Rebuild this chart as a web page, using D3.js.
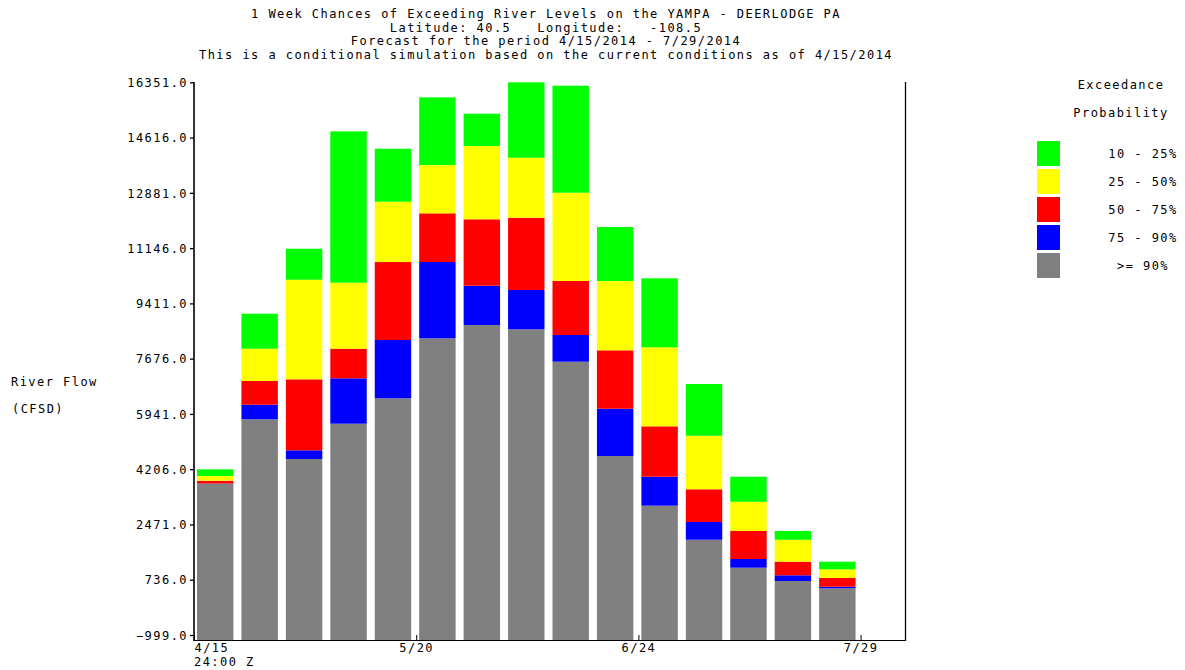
<!DOCTYPE html>
<html><head><meta charset="utf-8">
<script src="https://cdn.jsdelivr.net/npm/d3@7"></script>
<style>
body{margin:0;background:#fff}
svg text{font-family:"DejaVu Sans Mono",monospace;font-size:12px;letter-spacing:1.45px;fill:#000;white-space:pre}
</style>
</head><body><svg id="c" width="1185" height="670"></svg>
<script>
// ---------- data ----------
const titleLines = [
  "1 Week Chances of Exceeding River Levels on the YAMPA - DEERLODGE PA",
  "Latitude: 40.5   Longitude:   -108.5",
  "Forecast for the period 4/15/2014 - 7/29/2014",
  "This is a conditional simulation based on the current conditions as of 4/15/2014"
];
const weekLabels = ["4/15","4/22","4/29","5/6","5/13","5/20","5/27","6/3","6/10","6/17","6/24","7/1","7/8","7/15","7/22"];
// flow level (CFSD) exceeded with the given probability
const exceed90 = [3750, 5772, 4526, 5634, 6431, 8314, 8732, 8597, 7580, 4620, 3060, 1992, 1114, 696, 467];
const exceed75 = [3755, 6230, 4799, 7059, 8261, 10709, 9966, 9831, 8418, 6105, 3970, 2548, 1387, 875, 517];
const exceed50 = [3844, 6974, 7027, 7988, 10709, 12238, 12050, 12100, 10113, 7938, 5552, 3575, 2266, 1302, 790];
const exceed25 = [3992, 7988, 10154, 10060, 12602, 13754, 14351, 13984, 12885, 10113, 8032, 5257, 3185, 1992, 1063];
const exceed10 = [4202, 9087, 11127, 14812, 14266, 15879, 15365, 16351, 16244, 11808, 10198, 6880, 3970, 2266, 1302];
const yTicks = [-999, 736, 2471, 4206, 5941, 7676, 9411, 11146, 12881, 14616, 16351];
const xTickWeeks = [0, 5, 10, 15];
const xTickLabels = ["4/15", "5/20", "6/24", "7/29"];
const legendTitle = ["Exceedance", "Probability"];
const legendLabels = ["10 - 25%", "25 - 50%", "50 - 75%", "75 - 90%", ">= 90%"];
const legendColors = ["#00ff00", "#ffff00", "#ff0000", "#0000ff", "#808080"];
const yAxisTitle = ["River Flow", "(CFSD)"];
const timeZoneLabel = "24:00 Z";

// ---------- layout ----------
const svg = d3.select("#c");
const plot = {left: 194, right: 905, top: 82, bottom: 640};
const nSlots = weekLabels.length + 1;

const x = d3.scaleLinear().domain([0, nSlots]).range([plot.left, plot.right]);
const y = d3.scaleLinear().domain([yTicks[0], yTicks[yTicks.length - 1]]).range([635, 82.3]);

// title
svg.append("g").selectAll("text").data(titleLines).join("text")
  .attr("x", 546).attr("y", (d, i) => 18 + i * 13.5)
  .attr("text-anchor", "middle").text(d => d);

// x axis base line
svg.append("line").attr("x1", plot.left).attr("x2", plot.right)
  .attr("y1", plot.bottom + 0.5).attr("y2", plot.bottom + 0.5)
  .attr("stroke", "#000").attr("stroke-width", 1);
// right frame line
svg.append("line").attr("x1", plot.right + 0.5).attr("x2", plot.right + 0.5)
  .attr("y1", plot.top).attr("y2", plot.bottom + 1)
  .attr("stroke", "#000").attr("stroke-width", 1.3);

// bars
const segments = [];
weekLabels.forEach((w, i) => {
  const levels = [null, exceed90[i], exceed75[i], exceed50[i], exceed25[i], exceed10[i]];
  const cols = [legendColors[4], legendColors[3], legendColors[2], legendColors[1], legendColors[0]];
  for (let k = 0; k < 5; k++) {
    segments.push({i, lo: levels[k], hi: levels[k + 1], color: cols[k]});
  }
});
const slotW = x(1) - x(0);
svg.append("g").selectAll("rect").data(segments).join("rect")
  .attr("x", d => x(d.i) + 3)
  .attr("width", slotW - 8)
  .attr("y", d => y(d.hi))
  .attr("height", d => Math.max(0, (d.lo === null ? plot.bottom : y(d.lo)) - y(d.hi)))
  .attr("fill", d => d.color);

// y axis
const yAxis = d3.axisLeft(y).tickValues(yTicks).tickFormat(d3.format(".1f"))
  .tickSizeInner(4).tickSizeOuter(0).tickPadding(2);
const gy = svg.append("g").attr("transform", `translate(${plot.left},0)`).call(yAxis);
gy.select(".domain").remove();
gy.selectAll(".tick line").attr("stroke", "#000").attr("stroke-width", 1.3);
gy.selectAll(".tick text").attr("font-family", null).attr("font-size", null).attr("dy", "0.35em");
svg.append("line").attr("x1", plot.left).attr("x2", plot.left)
  .attr("y1", plot.top).attr("y2", plot.bottom + 1)
  .attr("stroke", "#000").attr("stroke-width", 1.6);

// x axis ticks
const xAxis = d3.axisBottom(x).tickValues(xTickWeeks)
  .tickFormat((d, i) => xTickLabels[i]).tickSizeInner(-5).tickSizeOuter(0).tickPadding(3);
const gx = svg.append("g").attr("transform", `translate(0,${plot.bottom})`).call(xAxis);
gx.select(".domain").remove();
gx.selectAll(".tick line").attr("stroke", "#000");
gx.selectAll(".tick text").attr("font-family", null).attr("font-size", null)
  .attr("text-anchor", (d, i) => i === 0 ? "start" : "middle");
svg.append("text").attr("x", plot.left).attr("y", 666).text(timeZoneLabel);

// y axis title
svg.append("g").selectAll("text").data(yAxisTitle).join("text")
  .attr("x", (d, i) => 11 + i).attr("y", (d, i) => 386 + i * 27).text(d => d);

// legend
svg.append("g").selectAll("text").data(legendTitle).join("text")
  .attr("x", 1121).attr("y", (d, i) => 89 + i * 28)
  .attr("text-anchor", "middle").text(d => d);
const lg = svg.append("g").selectAll("g").data(legendLabels).join("g")
  .attr("transform", (d, i) => `translate(1037,${141 + i * 28})`);
lg.append("rect").attr("width", 23).attr("height", 25).attr("fill", (d, i) => legendColors[i]);
lg.append("text").attr("x", 106).attr("y", 17).attr("text-anchor", "middle").text(d => d);
</script>
</body></html>
